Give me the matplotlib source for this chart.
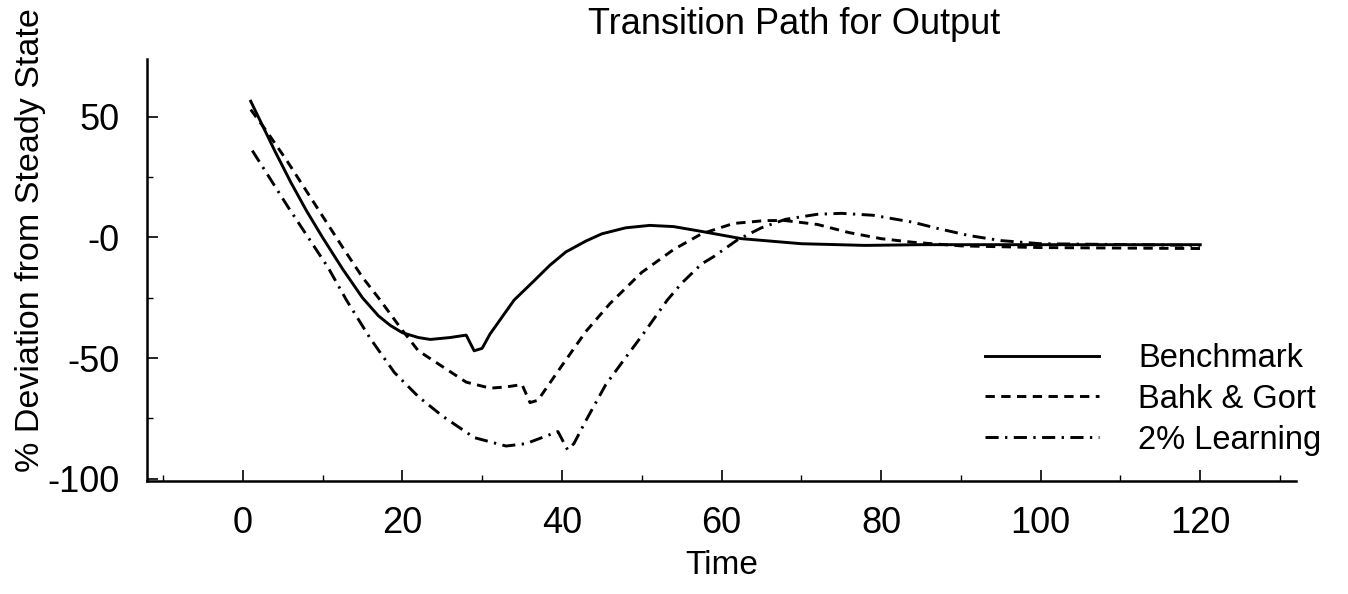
import matplotlib
matplotlib.use("Agg")
import matplotlib.pyplot as plt
from matplotlib.ticker import FixedLocator

plt.rcParams['font.family'] = ['Liberation Sans', 'DejaVu Sans']

# ---- data ----
bench_x = [1, 4, 6, 8, 10, 12.5, 15, 17, 18.5, 20, 22, 23.5, 26, 28, 29, 30, 31, 32.5,
           34, 36.5, 38.5, 40.5, 43, 45, 48, 51, 54, 57.5, 62.5, 70, 78, 85, 100, 120]
bench_y = [56.5, 36, 23, 11, 0, -13, -25, -32.5, -36.5, -39.5, -41.5, -42.3, -41.5,
           -40.5, -47, -46, -40, -33, -26, -18, -11.5, -6, -1.5, 1.5, 4, 5, 4.5, 2.5,
           -0.5, -2.6, -3.3, -3, -3, -3]

bahk_x = [1, 3, 5.5, 9, 12.5, 15, 17, 20, 22, 25, 28, 31, 33, 35, 36, 37, 39.5, 43,
          46, 50, 54, 57.5, 61.5, 65.5, 68, 72, 76, 80, 84, 90, 100, 120]
bahk_y = [53, 44, 32, 14, -4, -16.5, -25, -38.5, -47, -53.5, -60, -62.5, -62, -61,
          -68.5, -67.5, -55.5, -39, -27.5, -14.5, -5, 1.5, 5.8, 7, 7, 5.4, 2, -0.5,
          -2, -3.5, -4.2, -4.6]

learn_x = [1.2, 3.5, 5.7, 8.2, 10.7, 13, 16, 19, 22, 25, 29, 33, 35.5, 37.5, 39.5,
           40.7, 41.5, 43, 45.5, 47.5, 50.3, 53.2, 55, 57.5, 59, 62, 65, 68, 72, 75,
           79, 84, 87, 91, 95, 100, 120]
learn_y = [36, 24, 12.5, 0, -12.5, -26, -42, -56, -66, -74, -83, -86.5, -85.5, -83,
           -80.5, -88, -85.5, -76, -61, -52, -39.5, -26, -19, -11, -8, -1, 4, 7.5,
           9.6, 10, 9.2, 6.3, 3.8, 0.8, -1.3, -2.6, -3.3]

series_labels = ["Benchmark", "Bahk & Gort", "2% Learning"]
xticks = [0, 20, 40, 60, 80, 100, 120]
xtick_labels = ["0", "20", "40", "60", "80", "100", "120"]
xminor = [-10, 10, 30, 50, 70, 90, 110, 130]
yticks = [-100, -50, 0, 50]
ytick_labels = ["-100", "-50", "-0", "50"]
yminor = [-75, -25, 25]

W, H = 1348, 594
fig = plt.figure(figsize=(W / 100, H / 100), dpi=100)
ax = fig.add_axes([147 / W, 1 - 481 / H, (1296 - 147) / W, (481 - 59) / H])

lw = 2.1
ax.plot(bench_x, bench_y, color='black', lw=lw, linestyle='-', label=series_labels[0])
ax.plot(bahk_x, bahk_y, color='black', lw=lw, linestyle=(0, (3.2, 2.2)), label=series_labels[1])
ax.plot(learn_x, learn_y, color='black', lw=lw, linestyle=(0, (4.5, 2.2, 0.8, 2.2)),
        label=series_labels[2])

ax.set_xlim(-12, 132)
ax.set_ylim(-101, 74)

for s in ['top', 'right']:
    ax.spines[s].set_visible(False)
for s in ['left', 'bottom']:
    ax.spines[s].set_linewidth(1.8)

ax.xaxis.set_major_locator(FixedLocator(xticks))
ax.set_xticklabels(xtick_labels)
ax.xaxis.set_minor_locator(FixedLocator(xminor))
ax.yaxis.set_major_locator(FixedLocator(yticks))
ax.set_yticklabels(ytick_labels)
ax.yaxis.set_minor_locator(FixedLocator(yminor))

ax.tick_params(axis='both', which='major', direction='in', length=8, width=1.2,
               labelsize=26)
ax.tick_params(axis='both', which='minor', direction='in', length=4, width=1.0)
ax.tick_params(axis='x', which='major', pad=18)
ax.tick_params(axis='y', which='major', pad=20)

fig.text(794 / W, 1 - 24 / H, "Transition Path for Output", ha='center', va='center',
         fontsize=26)
fig.text(722 / W, 1 - 565 / H, "Time", ha='center', va='center', fontsize=24)
fig.text(31 / W, 1 - 240 / H, "% Deviation from Steady State", ha='center', va='center',
         rotation=90, fontsize=24.5)

leg = ax.legend(loc='upper left', bbox_to_anchor=(985 / W, 1 - 343 / H),
                bbox_transform=fig.transFigure, frameon=False, fontsize=23.5,
                handlelength=3.5, handletextpad=1.2, labelspacing=0.3,
                borderaxespad=0, borderpad=0)

fig.savefig("out.png", dpi=100)
